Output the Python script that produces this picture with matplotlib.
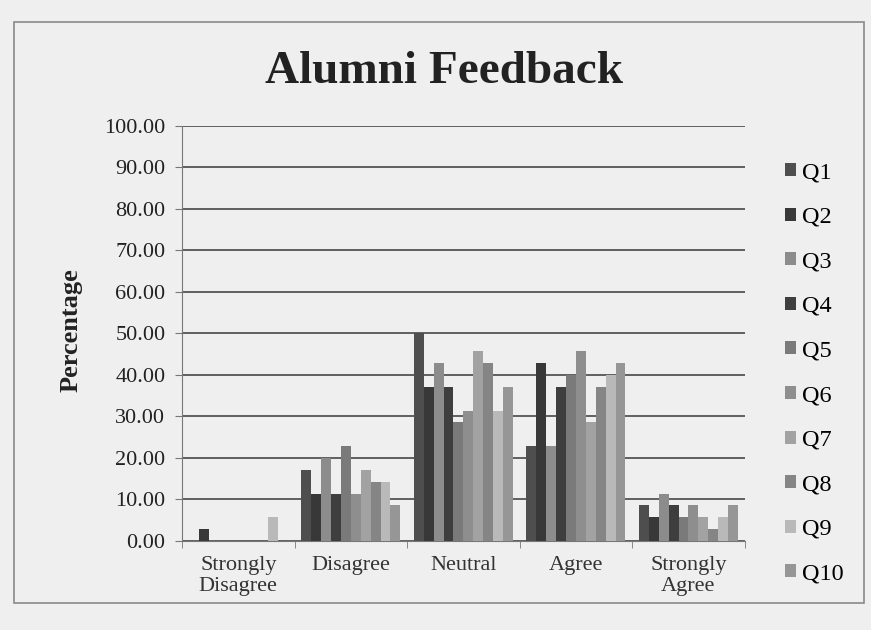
import numpy as np
import matplotlib.pyplot as plt
from matplotlib.patches import Rectangle

# Dados (percentual por resposta)
categories = ["Strongly\nDisagree", "Disagree", "Neutral", "Agree", "Strongly\nAgree"]
questions = ["Q1", "Q2", "Q3", "Q4", "Q5", "Q6", "Q7", "Q8", "Q9", "Q10"]

q1 = [0.00, 17.14, 50.00, 22.86, 8.57]
q2 = [2.86, 11.43, 37.14, 42.86, 5.71]
q3 = [0.00, 20.00, 42.86, 22.86, 11.43]
q4 = [0.00, 11.43, 37.14, 37.14, 8.57]
q5 = [0.00, 22.86, 28.57, 40.00, 5.71]
q6 = [0.00, 11.43, 31.43, 45.71, 8.57]
q7 = [0.00, 17.14, 45.71, 28.57, 5.71]
q8 = [0.00, 14.29, 42.86, 37.14, 2.86]
q9 = [5.71, 14.29, 31.43, 40.00, 5.71]
q10 = [0.00, 8.57, 37.14, 42.86, 8.57]

series = [q1, q2, q3, q4, q5, q6, q7, q8, q9, q10]
colors = ["#4e4e4e", "#383838", "#8c8c8c", "#3e3e3e", "#7a7a7a",
          "#8e8e8e", "#a2a2a2", "#858585", "#b9b9b9", "#969696"]

bg = "#efefef"
plt.rcParams['font.family'] = ['Liberation Serif', 'DejaVu Serif']

fig = plt.figure(figsize=(8.71, 6.30), dpi=100, facecolor=bg)
ax = fig.add_axes([0.209, 0.1413, 0.646, 0.6587], facecolor=bg)

# Moldura externa do grafico
fig.patches.append(Rectangle((14 / 871, 1 - 603 / 630), (864 - 14) / 871, (603 - 22) / 630,
                             transform=fig.transFigure, fill=False,
                             edgecolor="#8a8a8a", linewidth=1.2))

x = np.arange(len(categories))
width = 0.088
for i, (name, vals) in enumerate(zip(questions, series)):
    offset = (i - len(series) / 2 + 0.5) * width
    ax.bar(x + offset, vals, width, color=colors[i], label=name, zorder=3)

ax.set_xlim(-0.5, len(categories) - 0.5)
ax.set_ylim(0, 100)
ax.set_yticks(np.arange(0, 101, 10))
ax.set_yticklabels([f"{v:.2f}" for v in np.arange(0, 101, 10)], fontsize=16, color="#222222")
ax.set_xticks(x)
ax.set_xticklabels(categories, fontsize=16, color="#333333", linespacing=1.15)
ax.set_xticks(np.arange(-0.5, len(categories), 1), minor=True)
ax.tick_params(axis='x', which='major', length=0, pad=11)
ax.tick_params(axis='x', which='minor', length=5, color="#777777")
ax.tick_params(axis='y', length=5, color="#777777", pad=7)
ax.grid(axis='y', color="#555555", linewidth=1.3, zorder=0)

for s in ["top", "right"]:
    ax.spines[s].set_visible(False)
ax.spines["left"].set_color("#777777")
ax.spines["bottom"].set_color("#777777")

ax.set_ylabel("Percentage", fontsize=19, fontweight="bold", color="#222222")
ax.yaxis.set_label_coords(-0.177, 0.508)
fig.text(0.51, 0.885, "Alumni Feedback", ha="center", va="center",
         fontsize=34, fontweight="bold", color="#222222")

ax.legend(loc="center left", bbox_to_anchor=(1.072, 0.404), frameon=False,
          fontsize=17.5, handlelength=0.45, handleheight=0.45, handletextpad=0.25,
          labelspacing=0.97, borderaxespad=0, borderpad=0)

plt.savefig("out.png", dpi=100, facecolor=bg)
